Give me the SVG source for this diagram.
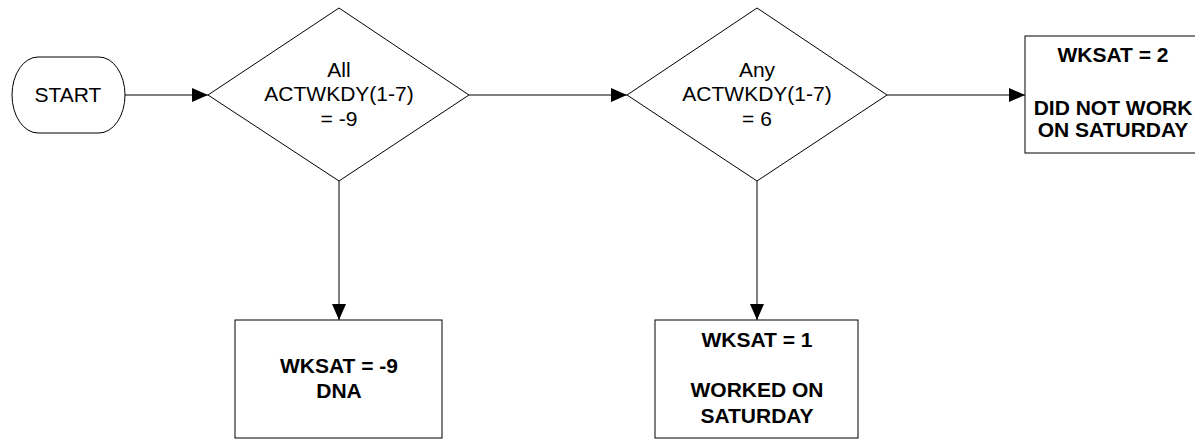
<svg xmlns="http://www.w3.org/2000/svg" width="1195" height="439" viewBox="0 0 1195 439">
<defs>
<style>
.s{fill:#fff;stroke:#000;stroke-width:1}
.t{font-family:"Liberation Sans",Arial,sans-serif;font-size:21px;fill:#000;text-anchor:middle}
.b{font-weight:bold}
.c{stroke:#000;stroke-width:1;fill:none;marker-end:url(#ah)}
</style>
<marker id="ah" viewBox="0 0 16 14" refX="16" refY="7" markerWidth="16" markerHeight="14" markerUnits="userSpaceOnUse" orient="auto">
<path d="M0,0 L16,7 L0,14 Z" fill="#000"/>
</marker>
</defs>
<rect width="1195" height="439" fill="#fff"/>
<g id="connectors">
<line class="c" x1="125" y1="95" x2="208" y2="95"/>
<line class="c" x1="469" y1="95" x2="627" y2="95"/>
<line class="c" x1="887" y1="95" x2="1025" y2="95"/>
<line class="c" x1="339" y1="181" x2="339" y2="320"/>
<line class="c" x1="757" y1="181" x2="757" y2="320"/>
</g>
<g id="start">
<rect class="s" x="12" y="57" width="113" height="76" rx="26" ry="38"/>
<text class="t" x="68" y="102">START</text>
</g>
<g id="decision1">
<polygon class="s" points="339,8 469,95 339,181 208,95"/>
<text class="t" x="339" y="77">All</text>
<text class="t" x="339" y="101">ACTWKDY(1-7)</text>
<text class="t" x="339" y="126">= -9</text>
</g>
<g id="decision2">
<polygon class="s" points="757,8 887,95 757,181 627,95"/>
<text class="t" x="757" y="77">Any</text>
<text class="t" x="757" y="101">ACTWKDY(1-7)</text>
<text class="t" x="757" y="126">= 6</text>
</g>
<g id="wksat2">
<rect class="s" x="1025" y="36" width="176" height="117"/>
<text class="t b" x="1113" y="62">WKSAT = 2</text>
<text class="t b" x="1113" y="115">DID NOT WORK</text>
<text class="t b" x="1113" y="137">ON SATURDAY</text>
</g>
<g id="wksat-9">
<rect class="s" x="235" y="320" width="207" height="118"/>
<text class="t b" x="339" y="373">WKSAT = -9</text>
<text class="t b" x="339" y="398">DNA</text>
</g>
<g id="wksat1">
<rect class="s" x="655" y="320" width="203" height="118"/>
<text class="t b" x="757" y="347">WKSAT = 1</text>
<text class="t b" x="757" y="397">WORKED ON</text>
<text class="t b" x="757" y="423">SATURDAY</text>
</g>
</svg>
